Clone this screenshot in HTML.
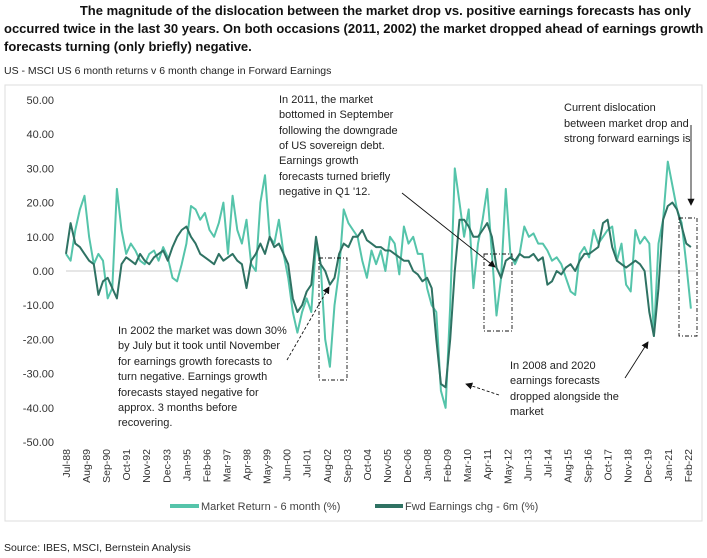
<!DOCTYPE html>
<html><head><meta charset="utf-8">
<style>
body{margin:0;width:707px;height:558px;background:#fff;font-family:"Liberation Sans",sans-serif;position:relative;overflow:hidden}
#title{position:absolute;left:4px;top:2px;width:700px;font-weight:bold;font-size:13px;line-height:18px;color:#111}
#sub{position:absolute;left:4px;top:65px;font-size:10.5px;color:#222}
#src{position:absolute;left:4px;top:542px;font-size:10.5px;color:#222}
svg{position:absolute;left:0;top:0}
</style></head><body>
<div id="title">&nbsp;&nbsp;&nbsp;&nbsp;&nbsp;&nbsp;&nbsp;&nbsp;&nbsp;&nbsp;&nbsp;&nbsp;&nbsp;&nbsp;&nbsp;&nbsp;&nbsp;&nbsp;&nbsp;&nbsp;&nbsp;The magnitude of the dislocation between the market drop vs. positive earnings forecasts has only occurred twice in the last 30 years. On both occasions (2011, 2002) the market dropped ahead of earnings growth forecasts turning (only briefly) negative.</div>
<div id="sub">US - MSCI US 6 month returns v 6 month change in Forward Earnings</div>
<div id="src">Source: IBES, MSCI, Bernstein Analysis</div>
<svg id="chart" width="707" height="558">
<rect x="5" y="85" width="697" height="436" fill="none" stroke="#ddd"/>
<g id="axes"></g><g id="series"></g>
<g font-size="11" fill="#222">
<text x="279" y="103"><tspan x="279">In 2011, the market</tspan><tspan x="279" dy="15">bottomed in September</tspan><tspan x="279" dy="16">following the downgrade</tspan><tspan x="279" dy="15">of US sovereign debt.</tspan><tspan x="279" dy="15">Earnings growth</tspan><tspan x="279" dy="16">forecasts turned briefly</tspan><tspan x="279" dy="15">negative in Q1 '12.</tspan></text>
<text x="118" y="334"><tspan x="118">In 2002 the market was down 30%</tspan><tspan x="118" dy="15">by July but it took until November</tspan><tspan x="118" dy="16">for earnings growth forecasts to</tspan><tspan x="118" dy="15">turn negative. Earnings growth</tspan><tspan x="118" dy="16">forecasts stayed negative for</tspan><tspan x="118" dy="15">approx. 3 months before</tspan><tspan x="118" dy="15">recovering.</tspan></text>
<text x="564" y="111"><tspan x="564">Current dislocation</tspan><tspan x="564" dy="16">between market drop and</tspan><tspan x="564" dy="15">strong forward earnings is</tspan></text>
<text x="510" y="369"><tspan x="510">In 2008 and 2020</tspan><tspan x="510" dy="15">earnings forecasts</tspan><tspan x="510" dy="16">dropped alongside the</tspan><tspan x="510" dy="15">market</tspan></text>
</g>
<defs><marker id="ah" markerWidth="8" markerHeight="8" refX="7" refY="4" orient="auto"><path d="M0,0 L8,4 L0,8 z" fill="#111"/></marker></defs>
<g stroke="#111" fill="none" stroke-width="0.9">
<rect x="319" y="258" width="28" height="122" stroke-dasharray="4,2,1,2"/>
<rect x="484" y="254" width="28" height="77" stroke-dasharray="4,2,1,2"/>
<rect x="679" y="218" width="18" height="118" stroke-dasharray="4,2,1,2"/>
<line x1="402" y1="193" x2="495" y2="267" marker-end="url(#ah)"/>
<line x1="287" y1="360" x2="329" y2="287" stroke-dasharray="3,2" marker-end="url(#ah)"/>
<line x1="499" y1="395" x2="466" y2="384" stroke-dasharray="3,2" marker-end="url(#ah)"/>
<line x1="625" y1="378" x2="648" y2="342" marker-end="url(#ah)"/>
<line x1="691" y1="125" x2="691" y2="205" marker-end="url(#ah)"/>
</g>
<g font-size="11" fill="#444">
<line x1="170" y1="506" x2="199" y2="506" stroke="#55c4aa" stroke-width="4"/>
<text x="201" y="510">Market Return - 6 month (%)</text>
<line x1="375" y1="506" x2="403" y2="506" stroke="#2f7263" stroke-width="4"/>
<text x="405" y="510">Fwd Earnings chg - 6m (%)</text>
</g>
</svg>
<script>
const yTicks=[50,40,30,20,10,0,-10,-20,-30,-40,-50];
const xLabels=["Jul-88","Aug-89","Sep-90","Oct-91","Nov-92","Dec-93","Jan-95","Feb-96","Mar-97","Apr-98","May-99","Jun-00","Jul-01","Aug-02","Sep-03","Oct-04","Nov-05","Dec-06","Jan-08","Feb-09","Mar-10","Apr-11","May-12","Jun-13","Jul-14","Aug-15","Sep-16","Oct-17","Nov-18","Dec-19","Jan-21","Feb-22"];
// quarterly observations starting Jul-88 (every 3 months)
const marketReturn=[5,3, 12,18,22,10, 2,5,3,-8, -5,24,12,5, 8,6,3,2, 5,6,3,7, 4,-2,-3,2, 8,19,18,15, 17,12,10,14, 20,5,22,12, 8,15,2,0, 20,28,10,8, 15,5,-2,-12, -18,-12,-8,-12, 8,2,-20,-28, -10,0,18,14, 12,10,3,-2, 6,2,6,0, 10,8,-1,13, 8,10,5,5, -5,-10,-12,-35, -40,-10,30,20, 10,18,-5,8, 15,24,5,-13, -2,24,5,2, 5,13,10,11, 8,8,6,3, 4,2,-2,-6, -7,5,7,4, 12,8,10,12, 13,3,8,-4, -6,12,8,10, 8,-19,8,15, 32,25,18,14, 2,-11];
const fwdEarnings=[5,14, 8,7,5,3, 2,-7,-3,-2, -5,-8,2,4, 3,2,5,3, 2,4,5,6, 3,7,10,12, 13,10,8,5, 4,3,2,5, 3,4,5,3, 2,-5,3,5, 8,5,10,7, 8,5,2,-8, -12,-10,-6,-4, 10,2,0,-4, -2,5,8,7, 10,10,12,9, 8,7,7,6, 6,5,4,3, 3,0,-1,-3, -2,-5,-20,-33, -34,-20,0,15, 15,13,10,10, 12,14,10,1, -2,3,4,3, 5,4,4,5, 3,4,-4,-3, 0,-1,1,2, 0,3,5,5, 6,7,14,15, 7,3,2,1, 2,3,2,0, -12,-19,-5,15, 19,20,18,13, 8,7];
const NS="http://www.w3.org/2000/svg";
const x0=66,pxPerMonth=1.543,yZero=271,pxPerUnit=3.42;
function xScale(m){return x0+m*pxPerMonth;}
function yScale(v){return yZero-v*pxPerUnit;}
const axes=document.getElementById('axes'),series=document.getElementById('series');
function mk(tag,attrs,parent){const e=document.createElementNS(NS,tag);for(const k in attrs)e.setAttribute(k,attrs[k]);parent.appendChild(e);return e;}
const zl=mk('line',{x1:xScale(0),x2:xScale(408),y1:yScale(0),y2:yScale(0),stroke:'#ccc','stroke-width':1},axes);


yTicks.forEach(v=>{
  const t=mk('text',{x:54,y:yScale(v)+4,'text-anchor':'end','font-size':11,fill:'#333'},axes);
  t.textContent=v.toFixed(2);
  
  
});
xLabels.forEach((l,i)=>{
  const x=xScale(i*13)+4;
  const t=mk('text',{x:0,y:0,transform:`translate(${x},449) rotate(-90)`,'text-anchor':'end','font-size':10.5,fill:'#333'},axes);
  t.textContent=l;
  
  
});
function drawLine(vals,color,name){
  const pts=vals.map((v,i)=>xScale(i*3).toFixed(1)+','+yScale(v).toFixed(1)).join(' ');
  const p=mk('polyline',{points:pts,fill:'none',stroke:color,'stroke-width':2,'stroke-linejoin':'round'},series);
  
  
}
drawLine(marketReturn,'#55c4aa','market-return-line');
drawLine(fwdEarnings,'#2f7263','fwd-earnings-line');
</script>
</body></html>
